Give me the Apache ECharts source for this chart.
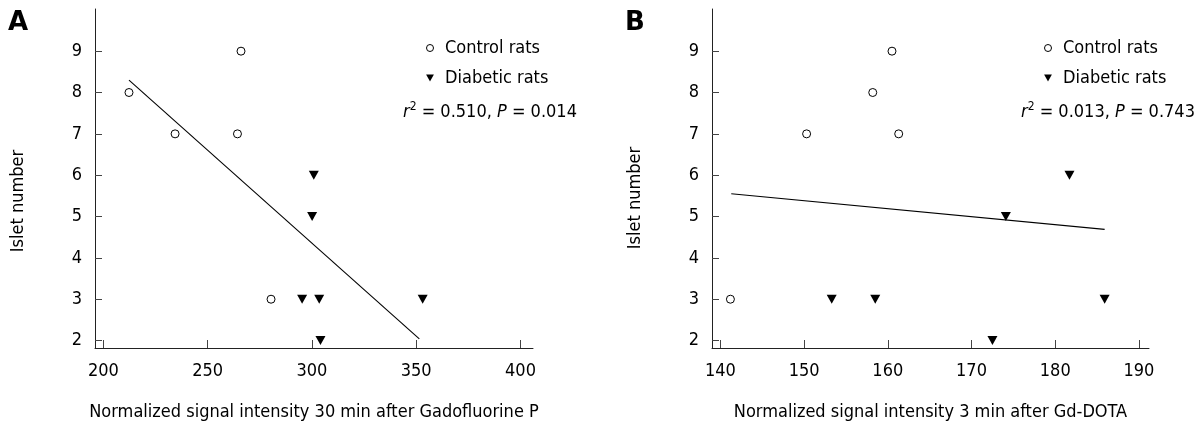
<!DOCTYPE html>
<html lang="en">
<head>
  <meta charset="UTF-8">
  <title>Islet number vs signal intensity</title>
  <style>
    * { margin: 0; padding: 0; }
    body { background: #fff; }
    #chart { width: 1203px; height: 423px; }
  </style>
</head>
<body>
  <div id="chart"></div>
  <script src="https://cdn.jsdelivr.net/npm/echarts@6.0.0/dist/echarts.min.js"></script>
  <script>
    // panel A - Gadofluorine P
    const controlAx = [212.3, 234.4, 266.0, 264.3, 280.4];
    const controlAy = [8, 7, 9, 7, 3];
    const diabeticAx = [300.9, 300.1, 295.3, 303.5, 304.1, 353.1];
    const diabeticAy = [6, 5, 3, 3, 2, 3];
    const fitAx = [212.3, 351.5];
    const fitAy = [8.3, 2.04];
    const ticksAx = [200, 250, 300, 350, 400];

    // panel B - Gd-DOTA
    const controlBx = [141.2, 150.3, 158.2, 160.5, 161.3];
    const controlBy = [3, 7, 8, 9, 7];
    const diabeticBx = [153.3, 158.5, 172.5, 174.1, 181.7, 185.9];
    const diabeticBy = [3, 3, 2, 5, 6, 3];
    const fitBx = [141.3, 185.9];
    const fitBy = [5.55, 4.69];
    const ticksBx = [140, 150, 160, 170, 180, 190];

    const ticksY = [2, 3, 4, 5, 6, 7, 8, 9];

    const FONT = '"DejaVu Sans Condensed", "DejaVu Sans", sans-serif';
    const downTri = 'path://M0,0 L10,0 L5,9 Z';

    const zip = (xs, ys) => xs.map((x, i) => [x, ys[i]]);

    function xAxis(grid, min, max, ticks, name) {
      return {
        type: 'value', gridIndex: grid, min: min, max: max,
        name: name, nameLocation: 'middle', nameGap: 55,
        nameTextStyle: { fontFamily: FONT, fontSize: 18, color: '#000' },
        axisLine: { show: true, onZero: false, lineStyle: { color: '#222', width: 1 } },
        axisTick: { show: true, inside: true, length: 8, customValues: ticks, lineStyle: { color: '#444' } },
        axisLabel: { customValues: ticks, margin: 14, fontFamily: FONT, fontSize: 18, color: '#000' },
        splitLine: { show: false }
      };
    }

    function yAxis(grid) {
      return {
        type: 'value', gridIndex: grid, min: 1.82, max: 10.02,
        axisLine: { show: true, onZero: false, lineStyle: { color: '#222', width: 1 } },
        axisTick: { show: true, inside: true, length: 7, customValues: ticksY, lineStyle: { color: '#444' } },
        axisLabel: { customValues: ticksY, margin: 13, fontFamily: FONT, fontSize: 18, color: '#000' },
        splitLine: { show: false }
      };
    }

    function circles(idx, xs, ys) {
      return {
        name: 'Control rats', type: 'scatter', xAxisIndex: idx, yAxisIndex: idx,
        symbol: 'circle', symbolSize: 8,
        itemStyle: { color: '#fff', borderColor: '#000', borderWidth: 1, opacity: 1 },
        data: zip(xs, ys)
      };
    }

    function triangles(idx, xs, ys) {
      return {
        name: 'Diabetic rats', type: 'scatter', xAxisIndex: idx, yAxisIndex: idx,
        symbol: downTri, symbolSize: [10, 9],
        itemStyle: { color: '#000', opacity: 1 },
        data: zip(xs, ys)
      };
    }

    function fit(idx, xs, ys) {
      return {
        type: 'line', xAxisIndex: idx, yAxisIndex: idx, symbol: 'none',
        lineStyle: { color: '#000', width: 1.1 },
        data: zip(xs, ys), silent: true
      };
    }

    function legend(left) {
      return {
        orient: 'vertical', left: left, top: 34, itemGap: 12,
        itemWidth: 20, itemHeight: 7,
        textStyle: { fontFamily: FONT, fontSize: 18, color: '#000' },
        data: [
          { name: 'Control rats', icon: 'circle', itemStyle: { color: '#fff', borderColor: '#000', borderWidth: 1, opacity: 1 } },
          { name: 'Diabetic rats', icon: downTri, itemStyle: { color: '#000', opacity: 1 } }
        ]
      };
    }

    function statText(x, r2, p) {
      return {
        type: 'text', x: x, y: 112,
        style: {
          text: '{i|r}{s|2} = ' + r2 + ', {i|P} = ' + p,
          fontFamily: FONT, fontSize: 18, fill: '#000',
          textVerticalAlign: 'middle',
          rich: {
            i: { fontStyle: 'italic', fontFamily: FONT, fontSize: 18 },
            s: { fontFamily: FONT, fontSize: 12, verticalAlign: 'top', lineHeight: 22 }
          }
        }
      };
    }

    function yName(x, y) {
      return {
        type: 'text', x: x, y: y, rotation: Math.PI / 2,
        style: {
          text: 'Islet number', fontFamily: FONT, fontSize: 18, fill: '#000',
          textAlign: 'center', textVerticalAlign: 'middle'
        }
      };
    }

    function panelLabel(x, text) {
      return {
        type: 'text', x: x, y: 23,
        style: { text: text, fontFamily: '"DejaVu Sans", sans-serif', fontWeight: 'bold', fontSize: 26, fill: '#000', textVerticalAlign: 'middle' }
      };
    }

    const chart = echarts.init(document.getElementById('chart'));
    chart.setOption({
      animation: false,
      backgroundColor: '#fff',
      grid: [
        { left: 95, top: 9, width: 438, height: 339, outerBoundsMode: 'none' },
        { left: 712, top: 9, width: 437, height: 339, outerBoundsMode: 'none' }
      ],
      xAxis: [
        xAxis(0, 196, 406, ticksAx, 'Normalized signal intensity 30 min after Gadofluorine P'),
        xAxis(1, 139, 191.2, ticksBx, 'Normalized signal intensity 3 min after Gd-DOTA')
      ],
      yAxis: [yAxis(0), yAxis(1)],
      legend: [legend(421), legend(1039)],
      graphic: [
        panelLabel(8, 'A'),
        panelLabel(625, 'B'),
        yName(18, 201),
        yName(635, 198),
        statText(403, '0.510', '0.014'),
        statText(1021, '0.013', '0.743')
      ],
      series: [
        fit(0, fitAx, fitAy),
        circles(0, controlAx, controlAy),
        triangles(0, diabeticAx, diabeticAy),
        fit(1, fitBx, fitBy),
        circles(1, controlBx, controlBy),
        triangles(1, diabeticBx, diabeticBy)
      ]
    });
  </script>
</body>
</html>
